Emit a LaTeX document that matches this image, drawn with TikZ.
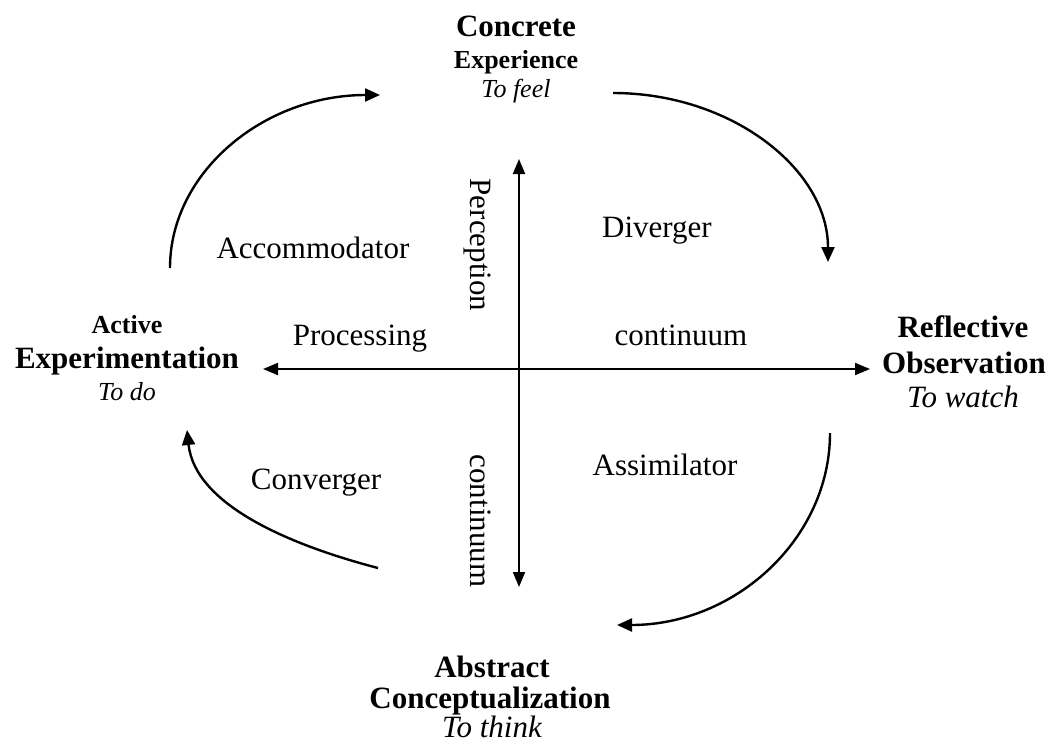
\documentclass[tikz,border=0pt]{standalone}
\usepackage{fontspec}
\setmainfont{Liberation Serif}
\usetikzlibrary{arrows.meta}
\tikzset{
  big/.style={font=\fontsize{31}{36}\selectfont, inner sep=0pt, anchor=base},
  bigb/.style={font=\fontsize{31}{36}\selectfont\bfseries, inner sep=0pt, anchor=base},
  smallb/.style={font=\fontsize{26}{30}\selectfont\bfseries, inner sep=0pt, anchor=base},
  smalli/.style={font=\fontsize{26}{30}\selectfont\itshape, inner sep=0pt, anchor=base},
  bigi/.style={font=\fontsize{31}{36}\selectfont\itshape, inner sep=0pt, anchor=base},
  axis/.style={line width=2pt, {Triangle[length=15pt,width=12pt]}-{Triangle[length=15pt,width=12pt]}},
  cyc/.style={line width=2.4pt, -{Triangle[length=15pt,width=13pt]}}
}
\begin{document}
\begin{tikzpicture}[x=1pt,y=-1pt]
\useasboundingbox (0,0) rectangle (1050,745);
% top label
\node[bigb] (ce1) at (516,36) {Concrete};
\node[smallb] (ce2) at (516,68) {Experience};
\node[smalli] (ce3) at (516,97) {To feel};
% left label
\node[smallb] (ae1) at (127,333) {Active};
\node[bigb] (ae2) at (127,368) {Experimentation};
\node[smalli] (ae3) at (127,400) {To do};
% right label
\node[bigb] (ro1) at (963,337) {Reflective};
\node[bigb] (ro2) at (964,373) {Observation};
\node[bigi] (ro3) at (963,407) {To watch};
% bottom label
\node[bigb] (ac1) at (492,677) {Abstract};
\node[bigb] (ac2) at (490,708) {Conceptualization};
\node[bigi] (ac3) at (492,737) {To think};
% quadrant labels
\node[big] (acc) at (313,258) {Accommodator};
\node[big] (div) at (657,237) {Diverger};
\node[big] (con) at (316,489) {Converger};
\node[big] (ass) at (665,475) {Assimilator};
\node[big] (proc) at (360,345) {Processing};
\node[big] (cont1) at (681,345) {continuum};
\node[big, rotate=-90] (perc) at (470,245) {Perception};
\node[big, rotate=-90] (cont2) at (470,521) {continuum};
% axes
\coordinate (vt) at (519,159);
\coordinate (vb) at (519,587);
\coordinate (hl) at (263,369);
\coordinate (hr) at (870,369);
\draw[axis] (vb) -- (vt);
\draw[axis] (hl) -- (hr);
% cycle arcs
\coordinate (a1s) at (170,268);
\coordinate (a1e) at (380,95);
\draw[cyc] (a1s) .. controls (170,172) and (264,95) .. (a1e);
\coordinate (a2s) at (613,93);
\coordinate (a2e) at (828,262);
\draw[cyc] (a2s) .. controls (731,93) and (828,169) .. (a2e);
\coordinate (a3s) at (830,433);
\coordinate (a3e) at (617,625);
\draw[cyc] (a3s) .. controls (830,539) and (735,625) .. (a3e);
\coordinate (a4s) at (378,568);
\coordinate (a4e) at (187,430);
\draw[cyc] (a4s) .. controls (290,545) and (195,505) .. (a4e);
\end{tikzpicture}
\end{document}
